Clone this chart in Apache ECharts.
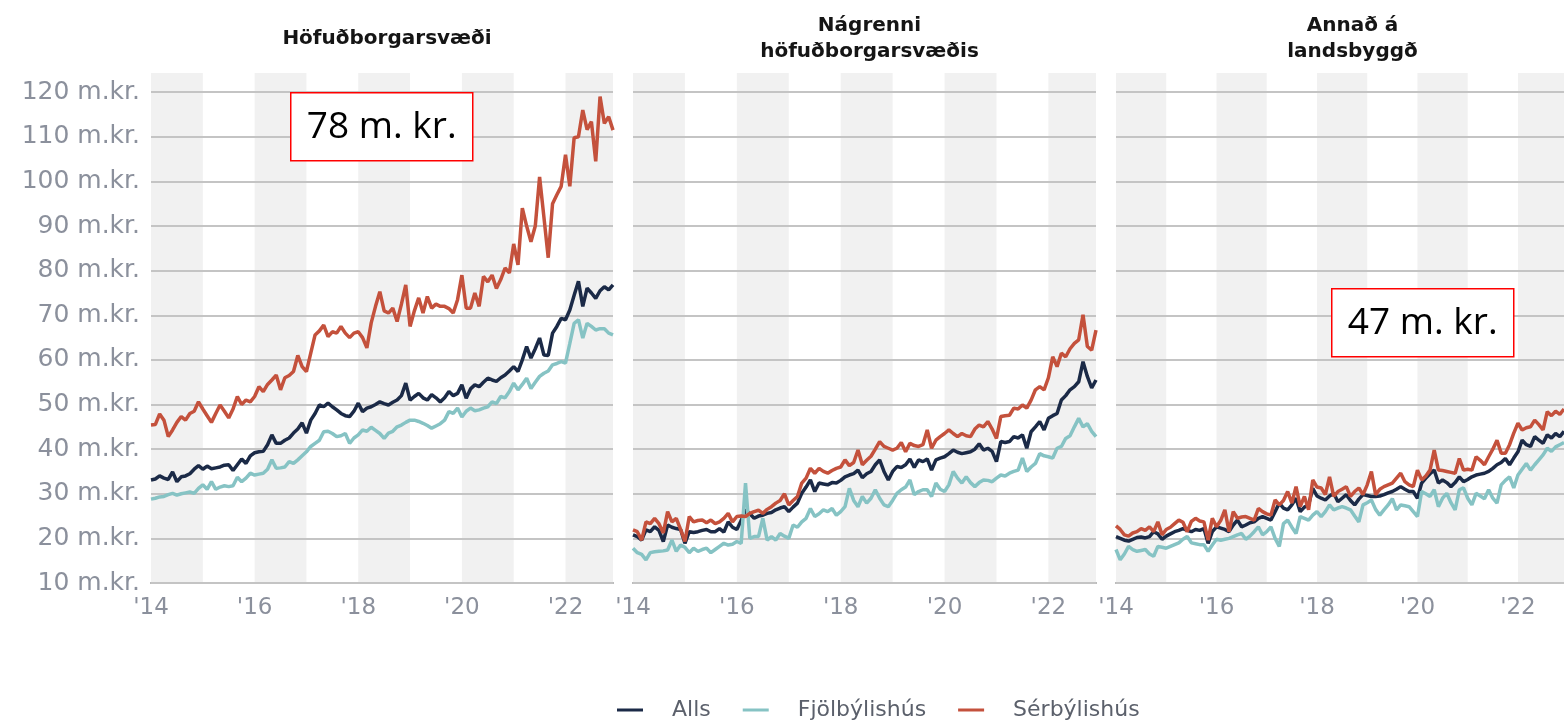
<!DOCTYPE html>
<html>
<head>
<meta charset="utf-8">
<script src="https://cdn.jsdelivr.net/npm/echarts@6.0.0/dist/echarts.min.js"></script>
<style>
  html, body { margin: 0; padding: 0; background: #fff; overflow: hidden; }
  #chart { width: 1564px; height: 723px; }
</style>
</head>
<body>
<div id="chart"></div>
<script>
// monthly values, Jan 2014 - Dec 2022, m.kr.
const startYear = 2014;
const seriesNames = ['Alls', 'Fjölbýlishús', 'Sérbýlishús'];
const panelTitles = ['Höfuðborgarsvæði', 'Nágrenni\nhöfuðborgarsvæðis', 'Annað á\nlandsbyggð'];
const callouts = ['78 m. kr.', '47 m. kr.'];

// Höfuðborgarsvæði
const capAlls = [
  33.1, 33.3, 34, 33.5, 33.2, 34.9, 32.7, 33.8, 34, 34.5, 35.5, 36.3,
  35.5, 36.2, 35.6, 35.8, 36, 36.4, 36.5, 35.2, 36.5, 37.8, 36.8, 38.5,
  39.2, 39.4, 39.5, 41, 43.2, 41.3, 41.3, 42, 42.5, 43.6, 44.5, 45.9,
  43.6, 46.5, 48, 49.9, 49.5, 50.3, 49.5, 48.8, 48, 47.5, 47.3, 48.5,
  50.3, 48.4, 49.2, 49.5, 50, 50.6, 50.2, 49.9, 50.5, 51, 52, 54.8,
  51, 51.8, 52.5, 51.5, 51, 52.2, 51.5, 50.6, 51.5, 52.9, 52, 52.5,
  54.4, 51.4, 53.5, 54.4, 54, 55, 55.9, 55.5, 55.2, 56, 56.6, 57.5,
  58.5, 57.4, 60, 63, 60.4, 62.5, 64.9, 61.1, 61, 66, 67.5, 69.3,
  69, 71.2, 74.5, 77.6, 72, 76.1, 75, 73.8, 75.5, 76.4, 75.7, 76.8
];
const capFjol = [
  28.8, 29, 29.3, 29.4, 29.8, 30.1, 29.7, 30, 30.2, 30.4, 30.1, 31.2,
  32, 31, 32.7, 31, 31.5, 31.8, 31.6, 31.8, 33.7, 32.7, 33.5, 34.6,
  34.2, 34.4, 34.6, 35.5, 37.6, 35.7, 35.8, 36, 37.2, 36.8, 37.6, 38.5,
  39.4, 40.6, 41.3, 42, 43.9, 44, 43.5, 42.8, 43, 43.5, 41.3, 42.5,
  43.2, 44.3, 44, 44.9, 44.2, 43.5, 42.4, 43.6, 44, 45, 45.4, 46,
  46.5, 46.5, 46.2, 45.8, 45.3, 44.7, 45.2, 45.7, 46.5, 48.4, 48, 49.2,
  47.2, 48.5, 49.2, 48.6, 48.8, 49.2, 49.5, 50.6, 50.2, 51.8, 51.5, 52.9,
  54.8, 53.3, 54.5, 55.9, 53.6, 55, 56.3, 57, 57.5, 58.9, 59.2, 59.6,
  59.3, 63.7, 68.2, 69, 64.9, 68.2, 67.5, 66.7, 67, 67, 66, 65.6
];
const capSer = [
  45.4, 45.5, 47.9, 46.5, 42.8, 44.3, 46, 47.3, 46.5, 48, 48.5, 50.6,
  49, 47.5, 46, 48, 49.9, 48.5, 47, 49, 51.8, 50, 51, 50.6,
  51.8, 54, 52.9, 54.5, 55.5, 56.6, 53.3, 56, 56.5, 57.4, 61, 58.5,
  57.4, 61.5, 65.6, 66.5, 67.8, 65.2, 66.3, 66, 67.5, 66, 65, 66,
  66.3, 65, 62.7, 68.3, 72, 75.3, 71, 70.5, 71.6, 68.6, 72.5, 76.8,
  67.5, 71, 73.9, 70.5, 74.2, 71.6, 72.5, 72, 72, 71.5, 70.5, 73.5,
  79, 71.6, 71.6, 75, 72, 78.7, 77.5, 79, 76, 78, 80.6, 79.5,
  86, 81.3, 94, 90, 86.5, 90, 101, 92, 82.9, 95, 97, 98.9,
  106, 98.9, 109.8, 110, 116, 111.6, 113.4, 104.5, 119, 113, 114.5, 111.5
];

// Nágrenni höfuðborgarsvæðis
const nearAlls = [
  20.8, 20.4, 19.6, 21.9, 21.5, 22.6, 21.8, 19.3, 23, 22.5, 22.2, 22,
  18.9, 21.5, 21.3, 21.5, 21.8, 22, 21.5, 21.5, 22.2, 21.4, 23.7, 22.5,
  22, 24, 26.4, 25.5, 24.5, 25, 25.2, 25.6, 25.8, 26.4, 26.8, 27.1,
  26, 27, 27.9, 30.1, 31.5, 33.1, 30.5, 32.4, 32.2, 32, 32.5, 32.4,
  33, 33.8, 34.2, 34.5, 35.3, 33.6, 34.5, 35, 36.5, 37.6, 35, 33.1,
  35, 36.1, 35.9, 36.5, 37.8, 35.9, 37.6, 37.2, 37.8, 35.3, 37.6, 38,
  38.3, 39, 39.8, 39.3, 39, 39.2, 39.4, 40, 41.2, 39.8, 40.2, 39.5,
  37.2, 41.7, 41.5, 41.7, 42.8, 42.5, 43.2, 40.2, 43.9, 45, 46.2, 44.3,
  46.9, 47.5, 48, 51, 52, 53.3, 54, 55.1, 59.6, 56.3, 53.7, 55.5
];
const nearFjol = [
  17.8, 16.8, 16.4, 15.2, 16.8, 17, 17.1, 17.2, 17.4, 19.6, 17.1, 18.5,
  18, 16.8, 17.8, 17.1, 17.5, 17.8, 16.8, 17.5, 18.2, 18.9, 18.5, 18.7,
  19.3, 18.9, 32.4, 20, 20.4, 20.4, 24.5, 19.6, 20.4, 19.6, 21.1, 20.5,
  20, 23, 22.5, 23.7, 24.5, 26.7, 24.9, 25.5, 26.4, 26, 26.7, 25.2,
  26, 27.1, 31.2, 28.5, 27.1, 29.4, 27.9, 29, 30.9, 29, 27.5, 27.1,
  28.5, 30.1, 30.9, 31.5, 33.1, 29.8, 30.5, 30.9, 30.9, 29.4, 32.4, 31,
  30.5, 32, 35, 33.5, 32.4, 33.8, 32.5, 31.6, 32.5, 33.1, 33, 32.7,
  33.5, 34.2, 34, 34.6, 35, 35.3, 38, 35, 36, 36.8, 39, 38.5,
  38.3, 38, 40.2, 40.6, 42.4, 43, 45, 46.9, 45, 45.7, 44, 42.8
];
const nearSer = [
  21.9, 21.5, 19.6, 23.7, 23.3, 24.5, 23.3, 21.2, 26, 23.7, 24.5, 22,
  19.3, 24.9, 23.7, 24, 24.1, 23.5, 24.1, 23.3, 23.7, 24.5, 25.6, 23.7,
  24.9, 25, 24.9, 25.6, 26, 26.3, 25.6, 26.5, 27.1, 27.9, 28.5, 30,
  27.5, 28.5, 29.4, 32.4, 33.5, 35.7, 34.6, 35.7, 35, 34.6, 35.2, 35.7,
  36, 37.6, 36.3, 37, 39.8, 36.5, 37.5, 38.4, 40, 41.7, 40.6, 40.2,
  39.8, 40.2, 41.5, 39.4, 41.3, 40.8, 40.6, 41, 44.3, 40.2, 42, 42.8,
  43.5, 44.3, 43.5, 42.8, 43.5, 43, 42.8, 44.5, 45.4, 45, 46.2, 44.5,
  42.4, 47.3, 47.5, 47.6, 49.2, 49, 49.9, 49.2, 51, 53.3, 54, 53.3,
  56, 60.7, 58.5, 61.5, 60.7, 62.5, 63.7, 64.5, 70.1, 63, 62.2, 66.7
];

// Annað á landsbyggð
const ruralAlls = [
  20.4, 20, 19.6, 19.4, 19.8, 20.2, 20.3, 20.1, 20.4, 21.5, 21, 19.8,
  20.5, 21, 21.5, 21.8, 22.2, 21.8, 21.5, 22, 21.8, 22.2, 18.9, 21.5,
  22.6, 22.3, 22, 21.5, 23, 24.1, 22.6, 23, 23.5, 23.7, 24.5, 24.9,
  24.5, 24.1, 26, 27.9, 26.8, 26.4, 27.5, 29, 26, 27, 27.5, 31.2,
  29.5, 29, 28.6, 29.5, 30.1, 28.2, 29, 29.8, 28.5, 27.5, 28.8, 29.8,
  29.6, 29.4, 29.4, 29.5, 29.8, 30.2, 30.5, 31, 31.6, 31, 30.5, 30.5,
  29, 32.4, 33.5, 34.5, 35.3, 32.4, 33.1, 32.5, 31.6, 32.5, 33.8, 32.7,
  33.2, 33.8, 34.2, 34.4, 34.6, 35, 35.7, 36.5, 37, 37.9, 36.5, 38,
  39.4, 42, 41, 40.6, 42.8, 42, 41.3, 43.2, 42.5, 43.5, 42.8, 44
];
const ruralFjol = [
  17.5, 15.2, 16.5, 18.2, 17.5, 17.1, 17.3, 17.5, 16.5, 16, 18.2, 18,
  17.8, 18.2, 18.6, 19, 19.8, 20.4, 19, 18.8, 18.6, 18.6, 17.1, 18.5,
  19.8, 19.6, 19.8, 20, 20.4, 20.8, 21.1, 19.8, 20.5, 21.5, 22.6, 20.8,
  21.5, 22.6, 20, 18.2, 23.3, 24.1, 22.5, 21.1, 24.9, 24.5, 24.1, 25.2,
  26, 24.9, 26, 27.5, 26.4, 26.8, 27.1, 26.8, 26.4, 25, 23.7, 27.5,
  28, 28.6, 26.5, 25.2, 26.4, 27.5, 28.9, 26.4, 27.5, 27.3, 27.1, 26,
  24.9, 30.5, 30, 29.4, 30.9, 27.1, 29, 30.1, 28, 26.4, 30.9, 31.3,
  29, 27.5, 30.1, 29.5, 28.9, 30.9, 29, 27.9, 32, 33, 33.8, 31.3,
  34.2, 35.5, 36.8, 35.3, 36.5, 37.6, 38.7, 40.2, 39.5, 40.5, 41, 41.5
];
const ruralSer = [
  22.8, 22, 20.8, 20.5, 21.2, 21.5, 22.2, 21.8, 22.6, 21.5, 23.7, 20.8,
  22, 22.5, 23.3, 24.1, 23.6, 21.5, 23.8, 24.5, 23.9, 23.7, 19.6, 24.5,
  22.6, 24, 26.4, 21.5, 26, 24.5, 24.8, 24.9, 24.5, 24.1, 26.7, 26,
  25.5, 25.2, 28.6, 27.5, 28.5, 30.5, 27.9, 31.6, 27.1, 29.4, 26.4, 33.1,
  31.5, 31.3, 29.8, 33.8, 29.4, 30.5, 31, 31.6, 29.4, 30.5, 31.3, 29.8,
  32, 35, 29.8, 31, 31.6, 32, 32.4, 33.5, 34.6, 32.7, 32, 31.6,
  35.3, 33.1, 34, 35.3, 39.8, 35.3, 35.2, 35, 34.8, 34.6, 37.9, 35.3,
  35.5, 35.3, 38.3, 37.5, 36.5, 38.3, 40, 42, 39.1, 39.1, 41, 43.6,
  45.8, 44.3, 44.8, 45, 46.5, 45.5, 44.3, 48.4, 47.5, 48.5, 47.8, 49
];

const panels = [
  [capAlls, capFjol, capSer],
  [nearAlls, nearFjol, nearSer],
  [ruralAlls, ruralFjol, ruralSer]
];

const colors = ['#1b2a47', '#86c3c4', '#c4513c'];
const font = 'DejaVu Sans';
const lastX = startYear + (capAlls.length - 1) / 12;

const grids = [
  { left: 151, top: 73, width: 462, height: 510 },
  { left: 633, top: 73, width: 463, height: 510 },
  { left: 1116, top: 73, width: 463, height: 510 }
];

const toPoints = arr => arr.map((v, i) => [startYear + i / 12, v]);

const chart = echarts.init(document.getElementById('chart'));

const option = {
  animation: false,
  backgroundColor: '#fff',
  textStyle: { fontFamily: font },
  title: panelTitles.map((t, i) => ({
    text: t,
    left: grids[i].left + grids[i].width / 2,
    top: i === 0 ? 21 : 8,
    textAlign: 'center',
    textStyle: { fontSize: 20, fontWeight: 'bold', color: '#151515', lineHeight: 26, fontFamily: font }
  })),
  legend: {
    data: seriesNames,
    left: 612,
    top: 694,
    icon: 'rect',
    itemWidth: 26,
    itemHeight: 3,
    itemGap: 32,
    textStyle: { color: '#5b606b', fontSize: 22, fontFamily: font, padding: [0, 0, 0, 24] }
  },
  grid: grids,
  xAxis: grids.map((g, i) => ({
    type: 'value',
    gridIndex: i,
    z: 0,
    min: startYear,
    max: lastX,
    interval: 1,
    axisLine: { show: true, onZero: false, lineStyle: { color: '#a6a6a6', width: 2 } },
    axisTick: { show: false },
    splitLine: { show: false },
    splitArea: { show: true, areaStyle: { color: ['#f1f1f1', 'rgba(255,255,255,0)'] } },
    axisLabel: {
      color: '#8b909c',
      fontSize: 23,
      margin: 14,
      showMaxLabel: false,
      formatter: v => (Number.isInteger(v) && v % 2 === 0) ? "'" + String(v).slice(2) : ''
    }
  })),
  yAxis: grids.map((g, i) => ({
    type: 'value',
    gridIndex: i,
    z: 1,
    min: 10,
    max: 124.3,
    interval: 10,
    axisLine: { show: false },
    axisTick: { show: false },
    splitLine: { show: true, showMaxLine: false, lineStyle: { color: '#c4c4c4', width: 2 } },
    axisLabel: {
      show: i === 0,
      color: '#8b909c',
      fontSize: 25,
      margin: 11,
      showMaxLabel: false,
      formatter: v => v + ' m.kr.'
    }
  })),
  series: panels.flatMap((set, p) => set.map((arr, k) => ({
    type: 'line',
    name: seriesNames[k],
    xAxisIndex: p,
    yAxisIndex: p,
    z: 3,
    data: toPoints(arr),
    symbol: 'none',
    lineStyle: { width: 3.5, color: colors[k] },
    itemStyle: { color: colors[k] }
  }))),
  graphic: [
    { left: 290, top: 92, text: callouts[0] },
    { left: 1331, top: 288, text: callouts[1] }
  ].map(c => ({
    type: 'group',
    left: c.left,
    top: c.top,
    z: 100,
    children: [
      { type: 'rect', z: 100, shape: { x: 0, y: 0, width: 182, height: 68 },
        style: { fill: '#fff', stroke: '#ff0000', lineWidth: 1.5 } },
      { type: 'text', z: 101, x: 91, y: 35,
        style: { text: c.text, font: '37px "Open Sans"', fill: '#000',
                 align: 'center', verticalAlign: 'middle', textAlign: 'center', textVerticalAlign: 'middle' } }
    ]
  }))
};

chart.setOption(option);
</script>
</body>
</html>
